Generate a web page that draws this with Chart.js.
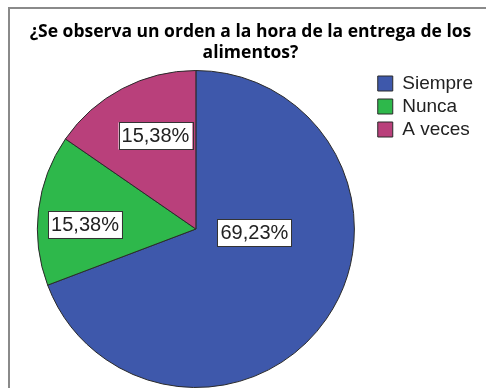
<!DOCTYPE html>
<html>
<head>
<meta charset="utf-8">
<script src="https://cdn.jsdelivr.net/npm/chart.js@4"></script>
<style>
  html, body { margin: 0; padding: 0; background: #fff; overflow: hidden; }
  #wrap { position: relative; width: 486px; height: 388px; }
  #marco { position: absolute; left: 8px; top: 7px; width: 500px; height: 400px; border: 2px solid #8a8a8a; box-sizing: border-box; }
  canvas { position: absolute; left: 0; top: 0; }
</style>
</head>
<body>
<div id="wrap">
  <div id="marco"></div>
  <canvas id="torta" width="486" height="388"></canvas>
</div>
<script>
// datos de la pregunta
var categorias = ['Siempre', 'Nunca', 'A veces'];
var porcentajes = [69.23, 15.38, 15.38];
var colores = ['#3e58ab', '#2eb84b', '#b9407b'];
var titulo = ['¿Se observa un orden a la hora de la entrega de los', 'alimentos?'];

// etiqueta con recuadro blanco para cada porción
var etiquetas = {
  id: 'etiquetas',
  afterDatasetsDraw: function(chart, args, opts) {
    var ctx = chart.ctx;
    var meta = chart.getDatasetMeta(0);
    ctx.save();
    ctx.font = '20px "Liberation Sans", Arial, sans-serif';
    ctx.textAlign = 'center';
    ctx.textBaseline = 'middle';
    meta.data.forEach(function(arc, i) {
      var p = arc.getProps(['x', 'y', 'startAngle', 'endAngle', 'outerRadius'], true);
      var lugar = opts.lugar[i];
      var ang = (p.startAngle + p.endAngle) / 2 + lugar.giro * Math.PI / 180;
      var cx = p.x + Math.cos(ang) * p.outerRadius * lugar.r;
      var cy = p.y + Math.sin(ang) * p.outerRadius * lugar.r;
      var txt = porcentajes[i].toFixed(2).replace('.', ',') + '%';
      var w = ctx.measureText(txt).width + 6;
      var h = 27;
      ctx.fillStyle = '#fff';
      ctx.fillRect(cx - w / 2, cy - h / 2, w, h);
      ctx.strokeStyle = '#333';
      ctx.lineWidth = 1;
      ctx.strokeRect(Math.round(cx - w / 2) + 0.5, Math.round(cy - h / 2) + 0.5, Math.round(w), h);
      ctx.fillStyle = '#222';
      ctx.fillText(txt, cx, cy + 1);
    });
    ctx.restore();
  }
};

var ctx = document.getElementById('torta');
var chart = new Chart(ctx, {
  type: 'pie',
  data: {
    labels: categorias,
    datasets: [{
      data: porcentajes,
      backgroundColor: colores,
      borderColor: '#2a2a2a',
      borderWidth: 1
    }]
  },
  options: {
    responsive: false,
    animation: false,
    layout: { padding: { left: 18, right: 3, top: 0, bottom: 0 } },
    plugins: {
      title: {
        display: true,
        text: titulo,
        color: '#000',
        font: { family: '"Open Sans"', size: 17.5, weight: 'bold', lineHeight: 1.2 },
        padding: { top: 22, bottom: 6 }
      },
      legend: {
        position: 'right',
        align: 'start',
        fullSize: false,
        labels: {
          color: '#222',
          font: { family: '"Liberation Sans", Arial', size: 19 },
          boxWidth: 15,
          boxHeight: 15,
          padding: 4
        }
      },
      tooltip: { enabled: false },
      etiquetas: {
        lugar: [
          { r: 0.37, giro: -31 },
          { r: 0.70, giro: -4.6 },
          { r: 0.64, giro: 4.2 }
        ]
      }
    }
  },
  plugins: [etiquetas]
});
</script>
</body>
</html>
